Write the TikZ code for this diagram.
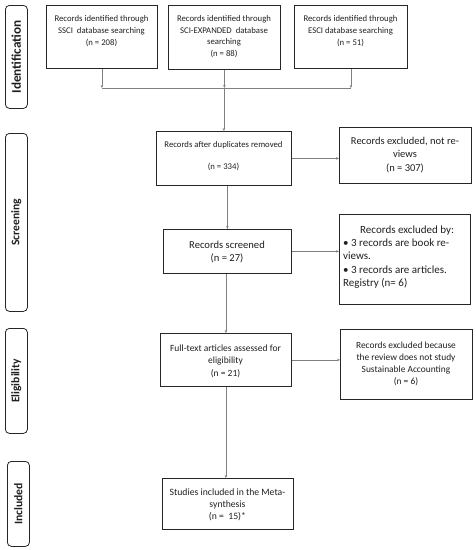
\documentclass[tikz,border=0pt]{standalone}
\usepackage{fontspec}
\setmainfont{Carlito}
\usetikzlibrary{arrows.meta}
\begin{document}
\begin{tikzpicture}[x=1pt,y=-1pt,
  box/.style={draw=black!85, line width=0.8pt, inner sep=0pt, anchor=north west},
  side/.style={draw=black!85, line width=0.8pt, rounded corners=4pt, inner sep=0pt, anchor=north west},
  txt/.style={align=center, inner sep=0pt, text=black!88},
  sidetxt/.style={rotate=90, inner sep=0pt, text=black!88, font=\bfseries\fontsize{11.6}{14}\selectfont},
  small/.style={font=\fontsize{8.7}{11.7}\selectfont},
  conn/.style={draw=black!50, line width=0.6pt},
  arr/.style={conn, -{Stealth[length=3pt,width=2.6pt]}},
]
\useasboundingbox (0,0) rectangle (476,550);

% phase labels
\node[side, minimum width=22, minimum height=103] (idS) at (5,5) {};
\node[sidetxt, font=\bfseries\fontsize{13.2}{15}\selectfont] (idT) at (idS.center) {Identification};
\node[side, minimum width=22, minimum height=178] (scS) at (5,133) {};
\node[sidetxt] (scT) at (scS.center) {Screening};
\node[side, minimum width=22, minimum height=105] (elS) at (5,328) {};
\node[sidetxt] (elT) at (elS.center) {Eligibility};
\node[side, minimum width=22, minimum height=85] (inS) at (7,461) {};
\node[sidetxt] (inT) at (inS.center) {Included};

% identification boxes
\node[box, minimum width=111, minimum height=63] (ssci) at (46,5) {};
\node[txt, small] (ssciT) at (101.5,31) {Records identified through\\SSCI\ \ database searching\\(n = 208)};
\node[box, minimum width=112, minimum height=64] (sci) at (168,5) {};
\node[txt, small] (sciT) at (224,36.5) {Records identified through\\SCI-EXPANDED\ \ database\\searching\\(n = 88)};
\node[box, minimum width=113, minimum height=63] (esci) at (294,5) {};
\node[txt, small] (esciT) at (350.5,31) {Records identified through\\ESCI database searching\\(n = 51)};

% screening
\node[box, minimum width=135, minimum height=54] (dup) at (156,131) {};
\node[txt, small] (dupT) at (223.5,156) {Records after duplicates removed\\[10.3pt](n = 334)};
\node[box, minimum width=132, minimum height=56] (ex1) at (339,127) {};
\node[txt, font=\fontsize{10.5}{13.3}\selectfont] (ex1T) at (405,155) {Records excluded, not re-\\views\\(n = 307)};
\node[box, minimum width=128, minimum height=44] (scr) at (163,229) {};
\node[txt, font=\fontsize{10.6}{13.6}\selectfont] (scrT) at (227,252) {Records screened\\(n = 27)};
\node[box, minimum width=131, minimum height=90] (ex2) at (339,214) {};
\node[txt, align=left, anchor=west, font=\fontsize{11}{13.3}\selectfont] (ex2T) at (343,257) {\hspace*{17pt}Records excluded by:\\• 3 records are book re-\\views.\\• 3 records are articles.\\Registry (n= 6)};

% eligibility
\node[box, minimum width=131, minimum height=53] (full) at (160,333) {};
\node[txt, font=\fontsize{9.5}{12.5}\selectfont] (fullT) at (225.5,361) {Full-text articles assessed for\\eligibility\\(n = 21)};
\node[box, minimum width=132, minimum height=70] (ex3) at (340,329) {};
\node[txt, font=\fontsize{9.4}{12}\selectfont] (ex3T) at (406,364) {Records excluded because\\the review does not study\\Sustainable Accounting\\(n = 6)};

% included
\node[box, minimum width=131, minimum height=51] (incl) at (162,478) {};
\node[txt, font=\fontsize{9.7}{12}\selectfont] (inclT) at (227.5,504.5) {Studies included in the Meta-\\synthesis\\(n =\ \ 15)*};

% connectors
\coordinate (hl) at (0,88);
\draw[arr] (ssci) -- (ssci |- hl);
\draw[arr] (sci) -- (sci |- hl);
\draw[arr] (esci) -- (esci |- hl);
\draw[conn] (ssci |- hl) -- (esci |- hl);
\draw[arr] (dup.north |- hl) -- (dup.north);
\draw[arr] (dup.east) -- (ex1.west |- dup.east);
\draw[arr] (scr.north |- dup.south) -- (scr.north);
\draw[arr] (scr.east) -- (ex2.west |- scr.east);
\draw[arr] (full.north |- scr.south) -- (full.north);
\draw[arr] (full.east) -- (ex3.west |- full.east);
\draw[arr] (full.south) -- (full.south |- incl.north);
\end{tikzpicture}
\end{document}
